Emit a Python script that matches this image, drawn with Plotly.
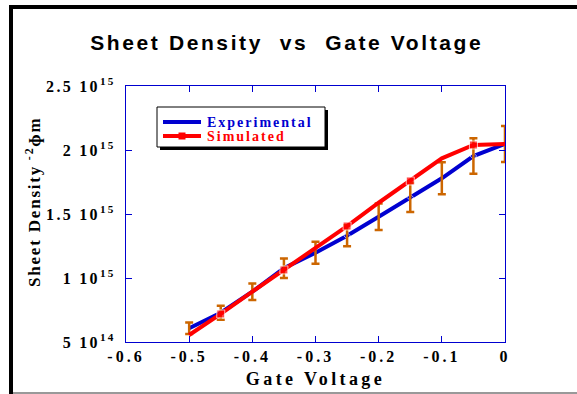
import plotly.graph_objects as go

voltage = [-0.5, -0.45, -0.4, -0.35, -0.3, -0.25, -0.2, -0.15, -0.1, -0.05, 0.0]
experimental = [6.07e14, 7.29e14, 8.93e14, 1.076e15, 1.198e15, 1.33e15, 1.479e15,
                1.63e15, 1.779e15, 1.953e15, 2.047e15]
simulated = [5.55e14, 7.19e14, 8.93e14, 1.063e15, 1.232e15, 1.406e15, 1.588e15,
             1.758e15, 1.935e15, 2.039e15, 2.047e15]
error = [4.5e13, 5.5e13, 6.5e13, 7.6e13, 8.6e13, 8.2e13, 1.04e14, 1.15e14,
         1.25e14, 1.38e14, 1.41e14]
marked = [False, True, False, True, False, True, False, True, False, True, False]

x_ticks = [-0.6, -0.5, -0.4, -0.3, -0.2, -0.1, 0]
x_labels = ["-0.6", "-0.5", "-0.4", "-0.3", "-0.2", "-0.1", "0"]
y_ticks = [5e14, 1e15, 1.5e15, 2e15, 2.5e15]
y_labels = ["5 10<sup>14</sup>", "1 10<sup>15</sup>", "1.5 10<sup>15</sup>",
            "2 10<sup>15</sup>", "2.5 10<sup>15</sup>"]
series_names = ["Experimental", "Simulated"]

BLUE = "#0000D0"
RED = "#FF0000"
ORANGE = "#CC6600"
SERIF = "Liberation Serif, Times New Roman, serif"
SANS = "Liberation Sans, Arial, sans-serif"


def spaced(t, px):
    return f"<span style='letter-spacing:{px}px'>{t}</span>"


fig = go.Figure()
fig.add_trace(go.Scatter(
    x=voltage, y=experimental, mode="lines+markers", name=series_names[0],
    line=dict(color=BLUE, width=4), showlegend=False,
    marker=dict(color=BLUE, size=[5 if m else 0 for m in marked], symbol="diamond"),
))
fig.add_trace(go.Scatter(
    x=voltage, y=experimental, mode="markers", showlegend=False, name="error",
    marker=dict(size=0.1, color="rgba(0,0,0,0)"),
    error_y=dict(type="data", array=error, visible=True, color=ORANGE,
                 thickness=2.5, width=4),
))
fig.add_trace(go.Scatter(
    x=voltage, y=simulated, mode="lines+markers", name=series_names[1],
    line=dict(color=RED, width=4), showlegend=False,
    marker=dict(color=RED, size=[8 if m else 0 for m in marked], symbol="square"),
))

L, R, T, B = 126, 72, 86, 52
W, H = 577, 394
pw, ph = W - L - R, H - T - B


def px(xp):
    return (xp - L) / pw


def py(yp):
    return (H - B - yp) / ph


def pline(x0, y0, x1, y1, color, width):
    return dict(type="line", xref="paper", yref="paper", x0=px(x0), x1=px(x1),
                y0=py(y0), y1=py(y1), line=dict(color=color, width=width), layer="above")


def prect(x0, y0, x1, y1, fill, lcolor=None, lwidth=0):
    return dict(type="rect", xref="paper", yref="paper", x0=px(x0), x1=px(x1),
                y0=py(y1), y1=py(y0), fillcolor=fill,
                line=dict(color=lcolor or fill, width=lwidth), layer="above")


# legend box (drawn by hand to match the compact original key)
lx0, ly0, lx1, ly1 = 157, 107, 325, 147
row_y = [122, 136]
colors = [BLUE, RED]
shapes = [
    prect(lx0 + 3, ly0 + 3, lx1 + 3, ly1 + 3, "black"),
    prect(lx0, ly0, lx1, ly1, "white", "black", 1),
    pline(163, row_y[0], 201, row_y[0], BLUE, 4),
    pline(163, row_y[1], 201, row_y[1], RED, 4),
    prect(180, row_y[0] - 2, 184, row_y[0] + 2, BLUE),
    prect(178.5, row_y[1] - 3.5, 185.5, row_y[1] + 3.5, RED),
    # outer frame
    pline(11, 5, 11, 394, "black", 4),
    pline(9, 7, 578, 7, "black", 4),
    pline(13, 393, 578, 393, "#777777", 1.5),
]

annotations = [
    dict(xref="paper", yref="paper", x=px(205), y=py(ry), xanchor="left", yanchor="middle",
         text=spaced(f"<b>{n}</b>", 2.0), showarrow=False,
         font=dict(family=SERIF, size=14, color=c))
    for n, ry, c in zip(series_names, row_y, colors)
]
annotations.append(dict(
    xref="paper", yref="paper", x=px(33), y=py(202), xanchor="center", yanchor="middle",
    textangle=-90, showarrow=False,
    text=spaced("<b>Sheet Density<sup> -2</sup>ɸm</b>", 1.8),
    font=dict(family=SERIF, size=17, color="black"),
))

fig.update_layout(
    width=W, height=H,
    margin=dict(l=L, r=R, t=T, b=B, autoexpand=False),
    paper_bgcolor="white", plot_bgcolor="white",
    title=dict(text=spaced("<b>Sheet Density  vs  Gate Voltage</b>", 2.6),
               x=0.497, xanchor="center", y=1 - 43 / H, yanchor="middle",
               font=dict(family=SANS, size=21, color="black")),
    xaxis=dict(range=[-0.6, 0], tickmode="array", tickvals=x_ticks,
               ticktext=[spaced(f"<b>{t}</b>", 3) for t in x_labels],
               showgrid=False, zeroline=False, automargin=False,
               showline=True, linecolor=BLUE, linewidth=1.2, mirror="ticks",
               ticks="inside", ticklen=6, tickcolor=BLUE, tickwidth=1.2,
               tickfont=dict(family=SERIF, size=16, color="black"),
               title=dict(text=spaced("<b>Gate Voltage</b>", 3.4), standoff=8,
                          font=dict(family=SERIF, size=18, color="black"))),
    yaxis=dict(range=[5e14, 2.5e15], tickmode="array", tickvals=y_ticks,
               ticktext=[spaced(f"<b>{t}</b>", 2.3) for t in y_labels],
               showgrid=False, zeroline=False, automargin=False,
               showline=True, linecolor=BLUE, linewidth=1.2, mirror="ticks",
               ticks="inside", ticklen=6, tickcolor=BLUE, tickwidth=1.2,
               ticklabelstandoff=6,
               tickfont=dict(family=SERIF, size=16, color="black")),
    shapes=shapes,
    annotations=annotations,
    showlegend=False,
)

fig.write_html("out.html")
